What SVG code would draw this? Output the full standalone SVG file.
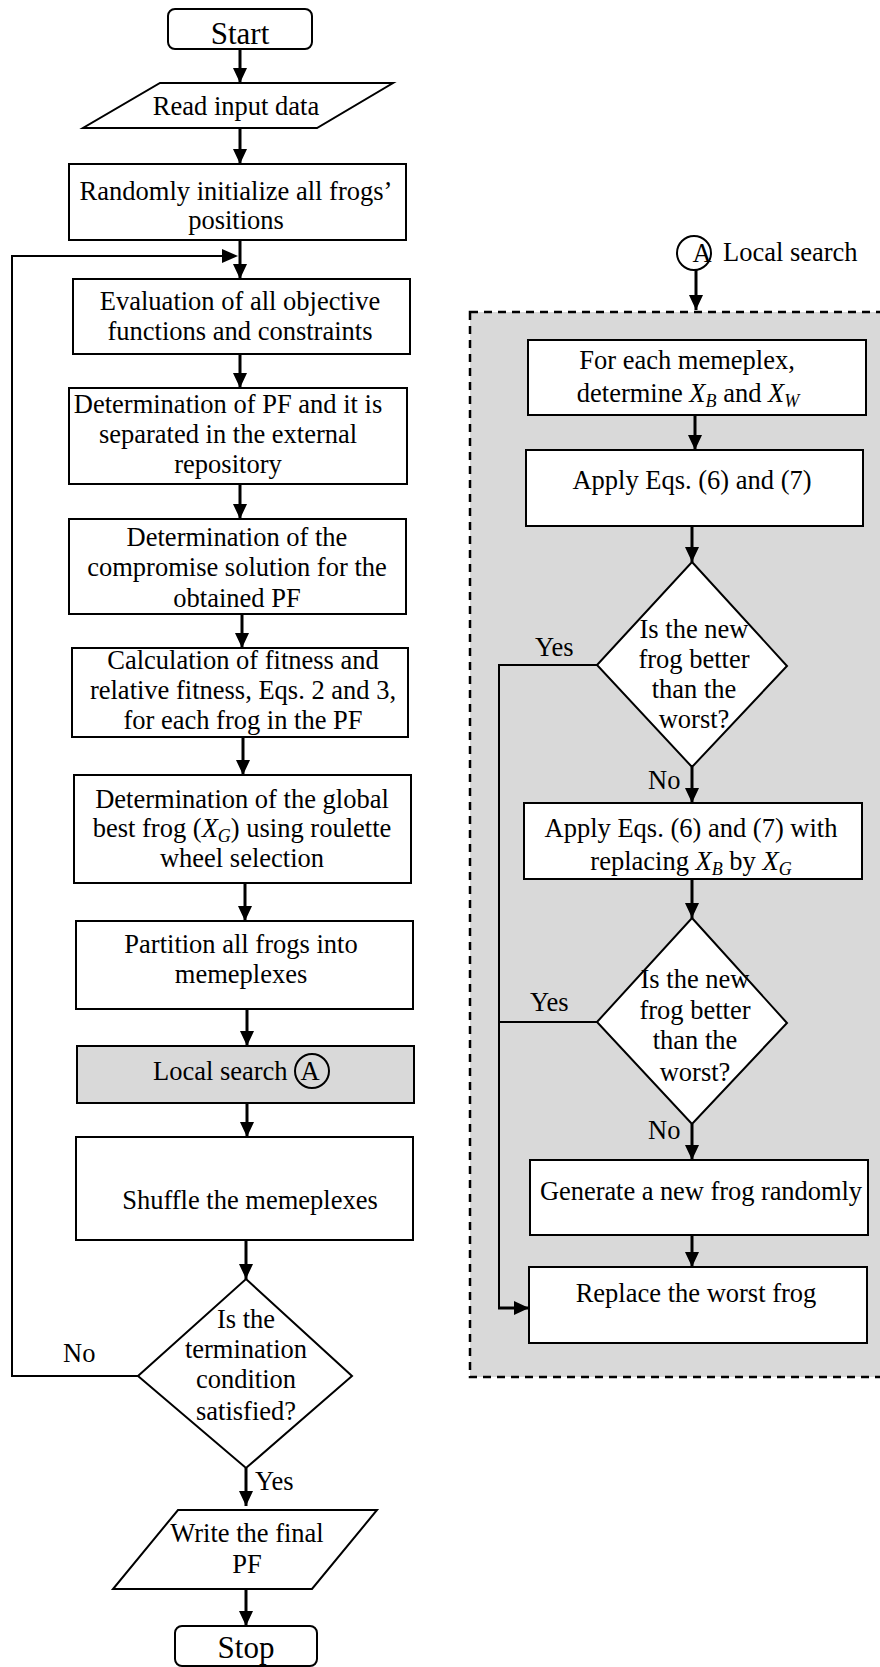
<svg xmlns="http://www.w3.org/2000/svg" width="880" height="1667" viewBox="0 0 880 1667">
<style>
text{font-family:"Liberation Serif","Times New Roman",serif;font-size:26.5px;fill:#000}
.c{text-anchor:middle}
.big{font-size:31px}
.n{fill:#fff;stroke:#000;stroke-width:2}
.g{fill:#d9d9d9;stroke:#000;stroke-width:2}
.a{stroke:#000;stroke-width:3;fill:none;marker-end:url(#ah)}
.l{stroke:#000;stroke-width:2;fill:none}
.i{font-style:italic}
.s{font-style:italic;font-size:18px}
</style>
<defs>
<marker id="ah" markerUnits="userSpaceOnUse" markerWidth="16" markerHeight="16" refX="15" refY="7" orient="auto">
<path d="M0,0 L15,7 L0,14 z" fill="#000"/>
</marker>
</defs>
<rect x="0" y="0" width="880" height="1667" fill="#fff"/>

<g id="localsearch-panel">
<rect x="470" y="312" width="430" height="1065" fill="#d9d9d9" stroke="#000" stroke-width="2.5" stroke-dasharray="8 6"/>
</g>

<g id="connectors">
<path class="a" d="M240,49 V83"/>
<path class="a" d="M240,128 V164"/>
<path class="a" d="M240,240 V279"/>
<path class="l" d="M138,1376 H12 V256 H226"/>
<path d="M222,249 L238,256 L222,263 z" fill="#000"/>
<path class="a" d="M240,354 V388"/>
<path class="a" d="M240,484 V519"/>
<path class="a" d="M242,614 V648"/>
<path class="a" d="M243,737 V775"/>
<path class="a" d="M245,883 V921"/>
<path class="a" d="M247,1009 V1046"/>
<path class="a" d="M247,1103 V1137"/>
<path class="a" d="M246,1240 V1279"/>
<path class="a" d="M246,1468 V1506"/>
<path class="a" d="M246,1589 V1626"/>
<path class="a" d="M696,270 V310"/>
<path class="a" d="M695,415 V450"/>
<path class="a" d="M692,526 V562"/>
<path class="a" d="M692,767 V803"/>
<path class="a" d="M692,879 V918"/>
<path class="a" d="M692,1124 V1160"/>
<path class="a" d="M692,1235 V1267"/>
<path class="l" d="M597,665 H499 V1308"/>
<path class="l" d="M597,1022 H499"/>
<path class="a" d="M498,1308 H529"/>
<text x="63" y="1362">No</text>
<text x="255" y="1490">Yes</text>
<text x="535" y="656">Yes</text>
<text x="648" y="789">No</text>
<text x="530" y="1011">Yes</text>
<text x="648" y="1139">No</text>
</g>

<g id="start">
<rect class="n" x="168" y="9" width="144" height="40" rx="7"/>
<text class="c big" x="240" y="44">Start</text>
</g>
<g id="read-input">
<polygon class="n" points="160,83 393,83 317,128 83,128"/>
<text class="c" x="236" y="115">Read input data</text>
</g>
<g id="init">
<rect class="n" x="69" y="164" width="337" height="76"/>
<text class="c" x="236" y="200">Randomly initialize all frogs’</text>
<text class="c" x="236" y="229">positions</text>
</g>
<g id="evaluation">
<rect class="n" x="73" y="279" width="337" height="75"/>
<text class="c" x="240" y="310">Evaluation of all objective</text>
<text class="c" x="240" y="340">functions and constraints</text>
</g>
<g id="determine-pf">
<rect class="n" x="69" y="388" width="338" height="96"/>
<text class="c" x="228" y="413">Determination of PF and it is</text>
<text class="c" x="228" y="443">separated in the external</text>
<text class="c" x="228" y="473">repository</text>
</g>
<g id="compromise">
<rect class="n" x="69" y="519" width="337" height="95"/>
<text class="c" x="237" y="546">Determination of the</text>
<text class="c" x="237" y="576">compromise solution for the</text>
<text class="c" x="237" y="607">obtained PF</text>
</g>
<g id="fitness">
<rect class="n" x="72" y="648" width="336" height="89"/>
<text class="c" x="243" y="669">Calculation of fitness and</text>
<text class="c" x="243" y="699">relative fitness, Eqs. 2 and 3,</text>
<text class="c" x="243" y="729">for each frog in the PF</text>
</g>
<g id="global-best">
<rect class="n" x="74" y="775" width="337" height="108"/>
<text class="c" x="242" y="808">Determination of the global</text>
<text class="c" x="242" y="837">best frog (<tspan class="i">X</tspan><tspan class="s" dy="5">G</tspan><tspan dy="-5">) using roulette</tspan></text>
<text class="c" x="242" y="867">wheel selection</text>
</g>
<g id="partition">
<rect class="n" x="76" y="921" width="337" height="88"/>
<text class="c" x="241" y="953">Partition all frogs into</text>
<text class="c" x="241" y="983">memeplexes</text>
</g>
<g id="local-search">
<rect class="g" x="77" y="1046" width="337" height="57"/>
<text x="153" y="1080">Local search</text>
<circle cx="312" cy="1071" r="17" fill="none" stroke="#000" stroke-width="2"/>
<text class="c" x="310" y="1080">A</text>
</g>
<g id="shuffle">
<rect class="n" x="76" y="1137" width="337" height="103"/>
<text class="c" x="250" y="1209">Shuffle the memeplexes</text>
</g>
<g id="termination">
<polygon class="n" points="246,1279 352,1376 246,1468 138,1376"/>
<text class="c" x="246" y="1328">Is the</text>
<text class="c" x="246" y="1358">termination</text>
<text class="c" x="246" y="1388">condition</text>
<text class="c" x="246" y="1420">satisfied?</text>
</g>
<g id="write">
<polygon class="n" points="178,1510 377,1510 312,1589 113,1589"/>
<text class="c" x="247" y="1542">Write the final</text>
<text class="c" x="247" y="1573">PF</text>
</g>
<g id="stop">
<rect class="n" x="175" y="1626" width="142" height="40" rx="7"/>
<text class="c big" x="246" y="1658">Stop</text>
</g>

<g id="connector-A">
<circle cx="694" cy="253" r="17" fill="none" stroke="#000" stroke-width="2"/>
<text class="c" x="702" y="262">A</text>
<text x="723" y="261">Local search</text>
</g>
<g id="memeplex">
<rect class="n" x="528" y="340" width="338" height="75"/>
<text class="c" x="687" y="369">For each memeplex,</text>
<text class="c" x="688" y="402">determine <tspan class="i">X</tspan><tspan class="s" dy="5">B</tspan><tspan dy="-5"> and </tspan><tspan class="i">X</tspan><tspan class="s" dy="5">W</tspan></text>
</g>
<g id="apply">
<rect class="n" x="526" y="450" width="337" height="76"/>
<text class="c" x="692" y="489">Apply Eqs. (6) and (7)</text>
</g>
<g id="decision1">
<polygon class="n" points="692,562 787,666 692,767 597,665"/>
<text class="c" x="694" y="638">Is the new</text>
<text class="c" x="694" y="668">frog better</text>
<text class="c" x="694" y="698">than the</text>
<text class="c" x="694" y="728">worst?</text>
</g>
<g id="apply-xg">
<rect class="n" x="524" y="803" width="338" height="76"/>
<text class="c" x="691" y="837">Apply Eqs. (6) and (7) with</text>
<text class="c" x="691" y="870">replacing <tspan class="i">X</tspan><tspan class="s" dy="5">B</tspan><tspan dy="-5"> by </tspan><tspan class="i">X</tspan><tspan class="s" dy="5">G</tspan></text>
</g>
<g id="decision2">
<polygon class="n" points="692,918 787,1023 692,1124 597,1022"/>
<text class="c" x="695" y="988">Is the new</text>
<text class="c" x="695" y="1019">frog better</text>
<text class="c" x="695" y="1049">than the</text>
<text class="c" x="695" y="1081">worst?</text>
</g>
<g id="generate">
<rect class="n" x="530" y="1160" width="338" height="75"/>
<text class="c" x="701" y="1200" textLength="322">Generate a new frog randomly</text>
</g>
<g id="replace">
<rect class="n" x="529" y="1267" width="338" height="76"/>
<text class="c" x="696" y="1302">Replace the worst frog</text>
</g>
</svg>
